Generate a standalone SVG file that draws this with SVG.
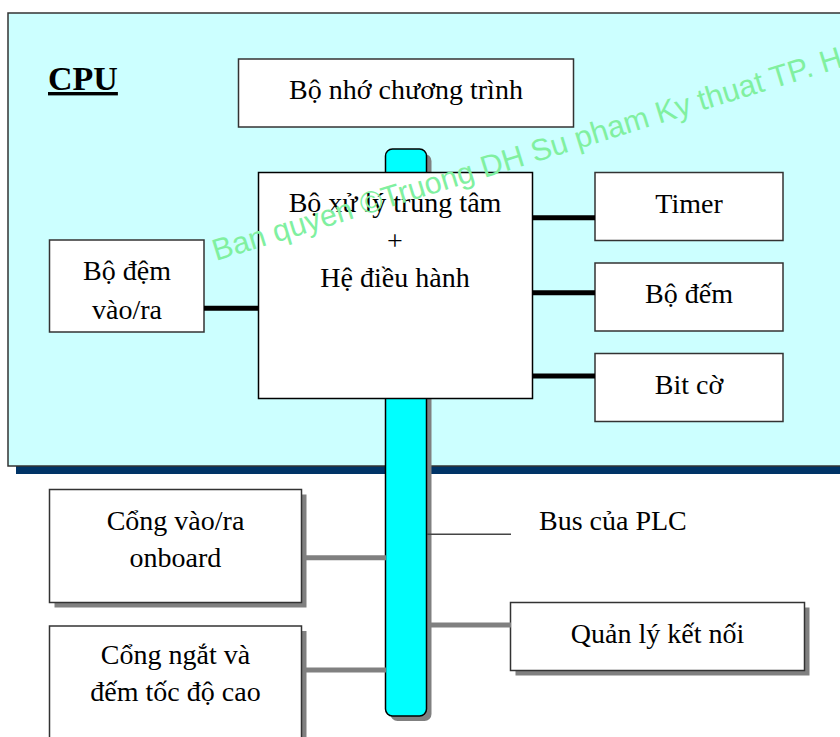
<svg xmlns="http://www.w3.org/2000/svg" width="840" height="737" viewBox="0 0 840 737">
  <style>
    .lbl { font-size: 28px; fill: #000; text-anchor: middle; }
    .ttl { font-size: 34px; font-weight: bold; fill: #000; text-decoration: underline; }
    .box { fill: #fff; stroke: #333; stroke-width: 1.5; }
    .shadow { fill: #808080; }
    .wire-in { stroke: #000; stroke-width: 5; fill: none; }
    .wire-out { stroke: #808080; stroke-width: 5; fill: none; }
    .wm { font-size: 30.5px; fill: #80F0A0; }
  </style>

  <g font-family="Liberation Serif, Times New Roman, serif">
    <!-- CPU enclosure -->
    <g id="cpu">
      <rect x="16" y="21" width="840" height="453" fill="#003366"/>
      <rect x="8" y="13" width="840" height="453" fill="#CCFFFF" stroke="#333" stroke-width="1.5"/>
      <text x="48" y="90" class="ttl" font-family="Liberation Serif">CPU</text>
    </g>

    <!-- PLC bus -->
    <g id="bus">
      <rect x="390.5" y="154" width="41" height="567" rx="7" class="shadow"/>
      <rect x="385.5" y="149" width="41" height="567" rx="7" fill="#00FFFF" stroke="#000" stroke-width="1.5"/>
    </g>

    <g id="program-memory">
      <rect x="238.5" y="59" width="335" height="68" class="box"/>
      <text x="406" y="99" class="lbl" font-family="Liberation Serif">Bộ nhớ chương trình</text>
    </g>

    <g id="processor">
      <rect x="258.5" y="172.5" width="274" height="226" fill="#fff" stroke="#000" stroke-width="1.5"/>
      <text x="395" y="212" class="lbl" font-family="Liberation Serif">Bộ xử lý trung tâm</text>
      <text x="395" y="250" class="lbl" font-family="Liberation Serif">+</text>
      <text x="395" y="287" class="lbl" font-family="Liberation Serif">Hệ điều hành</text>
    </g>

    <g id="timer">
      <rect x="595" y="172.5" width="188" height="68" class="box"/>
      <text x="689" y="213" class="lbl" font-family="Liberation Serif">Timer</text>
    </g>

    <g id="counter">
      <rect x="595" y="263" width="188" height="68" class="box"/>
      <text x="689" y="303" class="lbl" font-family="Liberation Serif">Bộ đếm</text>
    </g>

    <g id="flags">
      <rect x="595" y="353.5" width="188" height="68" class="box"/>
      <text x="689" y="394" class="lbl" font-family="Liberation Serif">Bit cờ</text>
    </g>

    <g id="io-buffer">
      <rect x="49.5" y="240" width="154.5" height="92" class="box"/>
      <text x="127" y="280" class="lbl" font-family="Liberation Serif">Bộ đệm</text>
      <text x="127" y="319" class="lbl" font-family="Liberation Serif">vào/ra</text>
    </g>

    <g id="onboard-io">
      <rect x="54.5" y="494.5" width="252" height="113" class="shadow"/>
      <rect x="49.5" y="489.5" width="252" height="113" class="box"/>
      <text x="175.5" y="530" class="lbl" font-family="Liberation Serif">Cổng vào/ra</text>
      <text x="175.5" y="567" class="lbl" font-family="Liberation Serif">onboard</text>
    </g>

    <g id="fast-counter">
      <rect x="54.5" y="631" width="252" height="120" class="shadow"/>
      <rect x="49.5" y="626" width="252" height="120" class="box"/>
      <text x="175.5" y="664" class="lbl" font-family="Liberation Serif">Cổng ngắt và</text>
      <text x="175.5" y="701" class="lbl" font-family="Liberation Serif">đếm tốc độ cao</text>
    </g>

    <g id="link-manager">
      <rect x="515.5" y="607.5" width="294" height="68" class="shadow"/>
      <rect x="510.5" y="602.5" width="294" height="68" class="box"/>
      <text x="657.5" y="643" class="lbl" font-family="Liberation Serif">Quản lý kết nối</text>
    </g>

    <g id="bus-label">
      <text x="539" y="530" font-size="28" fill="#000" font-family="Liberation Serif">Bus của PLC</text>
    </g>

    <!-- connectors -->
    <g id="connectors">
      <line x1="532" y1="217.7" x2="595" y2="217.7" class="wire-in"/>
      <line x1="532" y1="292.7" x2="595" y2="292.7" class="wire-in"/>
      <line x1="532" y1="376" x2="595" y2="376" class="wire-in"/>
      <line x1="204" y1="308.3" x2="259" y2="308.3" class="wire-in"/>
      <line x1="306" y1="557.7" x2="386" y2="557.7" class="wire-out"/>
      <line x1="306" y1="670" x2="386" y2="670" class="wire-out"/>
      <line x1="431" y1="625" x2="511" y2="625" class="wire-out"/>
      <line x1="427" y1="534.3" x2="511" y2="534.3" stroke="#444" stroke-width="1.5"/>
    </g>
  </g>

  <!-- copyright watermark -->
  <text x="216" y="261" class="wm" font-family="Liberation Sans" transform="rotate(-17.2 216 261)">Ban quyen ©Truong DH Su pham Ky thuat TP. H</text>
</svg>
